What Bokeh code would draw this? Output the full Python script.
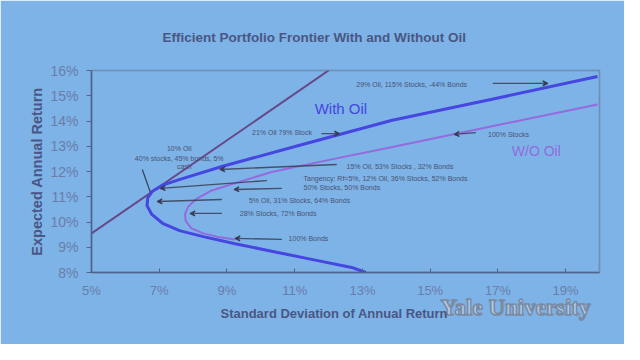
from bokeh.plotting import figure
from bokeh.models import Range1d, FixedTicker, Label, Arrow, VeeHead, ColumnDataSource, Title
from bokeh.embed import file_html
from bokeh.resources import INLINE

# ---------------- data ----------------
title_text = "Efficient Portfolio Frontier With and Without Oil"
x_label = "Standard Deviation of Annual Return"
y_label = "Expected Annual Return"

x_ticks = [5, 7, 9, 11, 13, 15, 17, 19]
x_tick_labels = ["5%", "7%", "9%", "11%", "13%", "15%", "17%", "19%"]
y_ticks = [8, 9, 10, 11, 12, 13, 14, 15, 16]
y_tick_labels = ["8%", "9%", "10%", "11%", "12%", "13%", "14%", "15%", "16%"]

# efficient frontier with oil (std dev %, return %)
with_oil_sd = [13.10, 12.68, 11.50, 10.32, 9.24, 8.30, 7.60, 7.10, 6.78, 6.64,
               6.66, 6.80, 7.10, 7.59, 8.85, 11.12, 13.85, 16.79, 19.94]
with_oil_ret = [8.00, 8.20, 8.52, 8.84, 9.14, 9.42, 9.66, 9.95, 10.30, 10.65,
                10.95, 11.22, 11.46, 11.68, 12.20, 13.03, 14.02, 14.85, 15.76]

# efficient frontier without oil
without_oil_sd = [9.24, 8.70, 8.30, 7.95, 7.78, 7.76, 7.85, 8.10, 8.55, 9.15,
                  10.32, 12.09, 13.85, 16.79, 19.94]
without_oil_ret = [9.31, 9.42, 9.55, 9.75, 10.05, 10.30, 10.60, 10.92, 11.25, 11.50,
                   11.98, 12.48, 12.96, 13.78, 14.65]

# capital market line
cml_sd = [5.0, 12.0]
cml_ret = [9.55, 16.0]

# annotations
note_text = ["10% Oil", "40% stocks, 45% bonds, 5%", "cash",
             "21% Oil 79% Stock",
             "15% Oil, 53% Stocks , 32% Bonds",
             "Tangency: Rf=5%, 12% Oil, 36% Stocks, 52% Bonds",
             "50% Stocks, 50% Bonds",
             "5% Oil, 31% Stocks, 64% Bonds",
             "28% Stocks, 72% Bonds",
             "100% Bonds",
             "100% Stocks",
             "29% Oil, 115% Stocks, -44% Bonds"]
note_sd = [7.59, 7.59, 7.74, 9.74, 12.53, 11.26, 11.26, 9.65, 9.38, 10.82, 16.71, 12.82]
note_ret = [12.91, 12.51, 12.20, 13.54, 12.20, 11.72, 11.37, 10.85, 10.34, 9.35, 13.47, 15.45]
note_align = ["center", "center", "center", "left", "left", "left", "left", "left",
              "left", "left", "left", "left"]

arrow_sd_start = [11.79, 12.24, 10.18, 10.62, 8.85, 8.85, 10.62, 16.35, 16.85]
arrow_ret_start = [13.50, 12.28, 11.64, 11.33, 10.89, 10.34, 9.31, 13.54, 15.49]
arrow_sd_end = [12.32, 8.79, 7.03, 9.21, 6.94, 7.91, 9.24, 15.71, 18.47]
arrow_ret_end = [13.50, 12.08, 11.33, 11.29, 10.81, 10.34, 9.35, 13.47, 15.49]

pointer_sd = [6.50, 6.74]
pointer_ret = [12.08, 11.17]

series_label = ["With Oil", "W/O Oil"]
series_label_sd = [11.59, 17.41]
series_label_ret = [14.50, 12.83]

watermark = "Yale University"

# ---------------- styling ----------------
BG = "#7db3e6"
DARK = "#4a5684"
TICKC = "#6a7dab"
NOTE = "#4a5274"
ARROWC = "#3a3d55"
WITH_C = "#4646e0"
WO_C = "#946ade"
CML_C = "#66488a"
SANS = "Liberation Sans"

p = figure(width=624, height=344, output_backend="svg", toolbar_location=None,
           x_range=Range1d(5, 20), y_range=Range1d(8, 16),
           min_border_left=91, min_border_right=25, min_border_top=70,
           min_border_bottom=72)
p.background_fill_color = BG
p.border_fill_color = BG
p.grid.visible = False
p.outline_line_color = "#50608a"
p.outline_line_alpha = 0.55
p.outline_line_width = 1.5

p.title.text = title_text
p.title.align = "left"
p.title.offset = 71
p.title.standoff = 52
p.title.text_font = SANS
p.title.text_font_style = "bold"
p.title.text_font_size = "13.5px"
p.title.text_color = DARK

p.xaxis.ticker = FixedTicker(ticks=x_ticks)
p.yaxis.ticker = FixedTicker(ticks=y_ticks)
p.xaxis.major_label_overrides = {t: s for t, s in zip(x_ticks, x_tick_labels)}
p.yaxis.major_label_overrides = {t: s for t, s in zip(y_ticks, y_tick_labels)}
for ax in (p.xaxis[0], p.yaxis[0]):
    ax.axis_line_color = "#50628e"
    ax.axis_line_width = 1.5
    ax.major_tick_line_color = "#50628e"
    ax.minor_tick_line_color = None
    ax.major_label_text_font = SANS
    ax.major_label_text_color = TICKC
p.xaxis.major_label_text_font_size = "13px"
p.yaxis.major_label_text_font_size = "14px"
p.xaxis.major_tick_in = 4
p.xaxis.major_tick_out = 0
p.xaxis.major_label_standoff = 10
p.yaxis.major_tick_in = 0
p.yaxis.major_tick_out = 5
p.yaxis.major_label_standoff = 8

p.yaxis.axis_label = y_label
p.yaxis.axis_label_text_font = SANS
p.yaxis.axis_label_text_font_style = "bold"
p.yaxis.axis_label_text_font_size = "14.5px"
p.yaxis.axis_label_text_color = DARK
p.yaxis.axis_label_standoff = 2

# watermark first in the lower panel stack, then the x-axis title
wm = Title(text=watermark, align="left", offset=349, standoff=-16,
           text_font="Liberation Serif", text_font_size="23px",
           text_color="#b3cbe8")
try:
    wm.text_outline_color = "#7a8aa2"
except Exception:
    wm.text_color = "#98aac4"
p.add_layout(wm, "below")

p.add_layout(Title(text=x_label, align="left", offset=129, standoff=-15,
                   text_font=SANS, text_font_style="bold", text_font_size="13px",
                   text_color=DARK), "below")

# curves
p.line(cml_sd, cml_ret, line_color=CML_C, line_width=2)
p.line(without_oil_sd, without_oil_ret, line_color=WO_C, line_width=2)
p.line(with_oil_sd, with_oil_ret, line_color=WITH_C, line_width=3)
p.line(pointer_sd, pointer_ret, line_color=ARROWC, line_width=1.2)

# arrows
asrc = ColumnDataSource(dict(x0=arrow_sd_start, y0=arrow_ret_start,
                             x1=arrow_sd_end, y1=arrow_ret_end))
p.add_layout(Arrow(source=asrc, x_start="x0", y_start="y0", x_end="x1", y_end="y1",
                   line_color=ARROWC, line_width=1.4, line_alpha=0.85,
                   end=VeeHead(size=5, line_color=ARROWC, line_width=1.2,
                               fill_color=ARROWC)))

for t, x, y, a in zip(note_text, note_sd, note_ret, note_align):
    p.add_layout(Label(x=x, y=y, text=t, text_align=a, text_baseline="middle",
                       text_font=SANS, text_font_size="7px", text_color=NOTE))

p.add_layout(Label(x=series_label_sd[0], y=series_label_ret[0], text=series_label[0],
                   text_baseline="middle", text_font=SANS, text_font_size="15px",
                   text_color=WITH_C))
p.add_layout(Label(x=series_label_sd[1], y=series_label_ret[1], text=series_label[1],
                   text_baseline="middle", text_font=SANS, text_font_size="14px",
                   text_color=WO_C))

open("out.html", "w").write(file_html(p, INLINE))
